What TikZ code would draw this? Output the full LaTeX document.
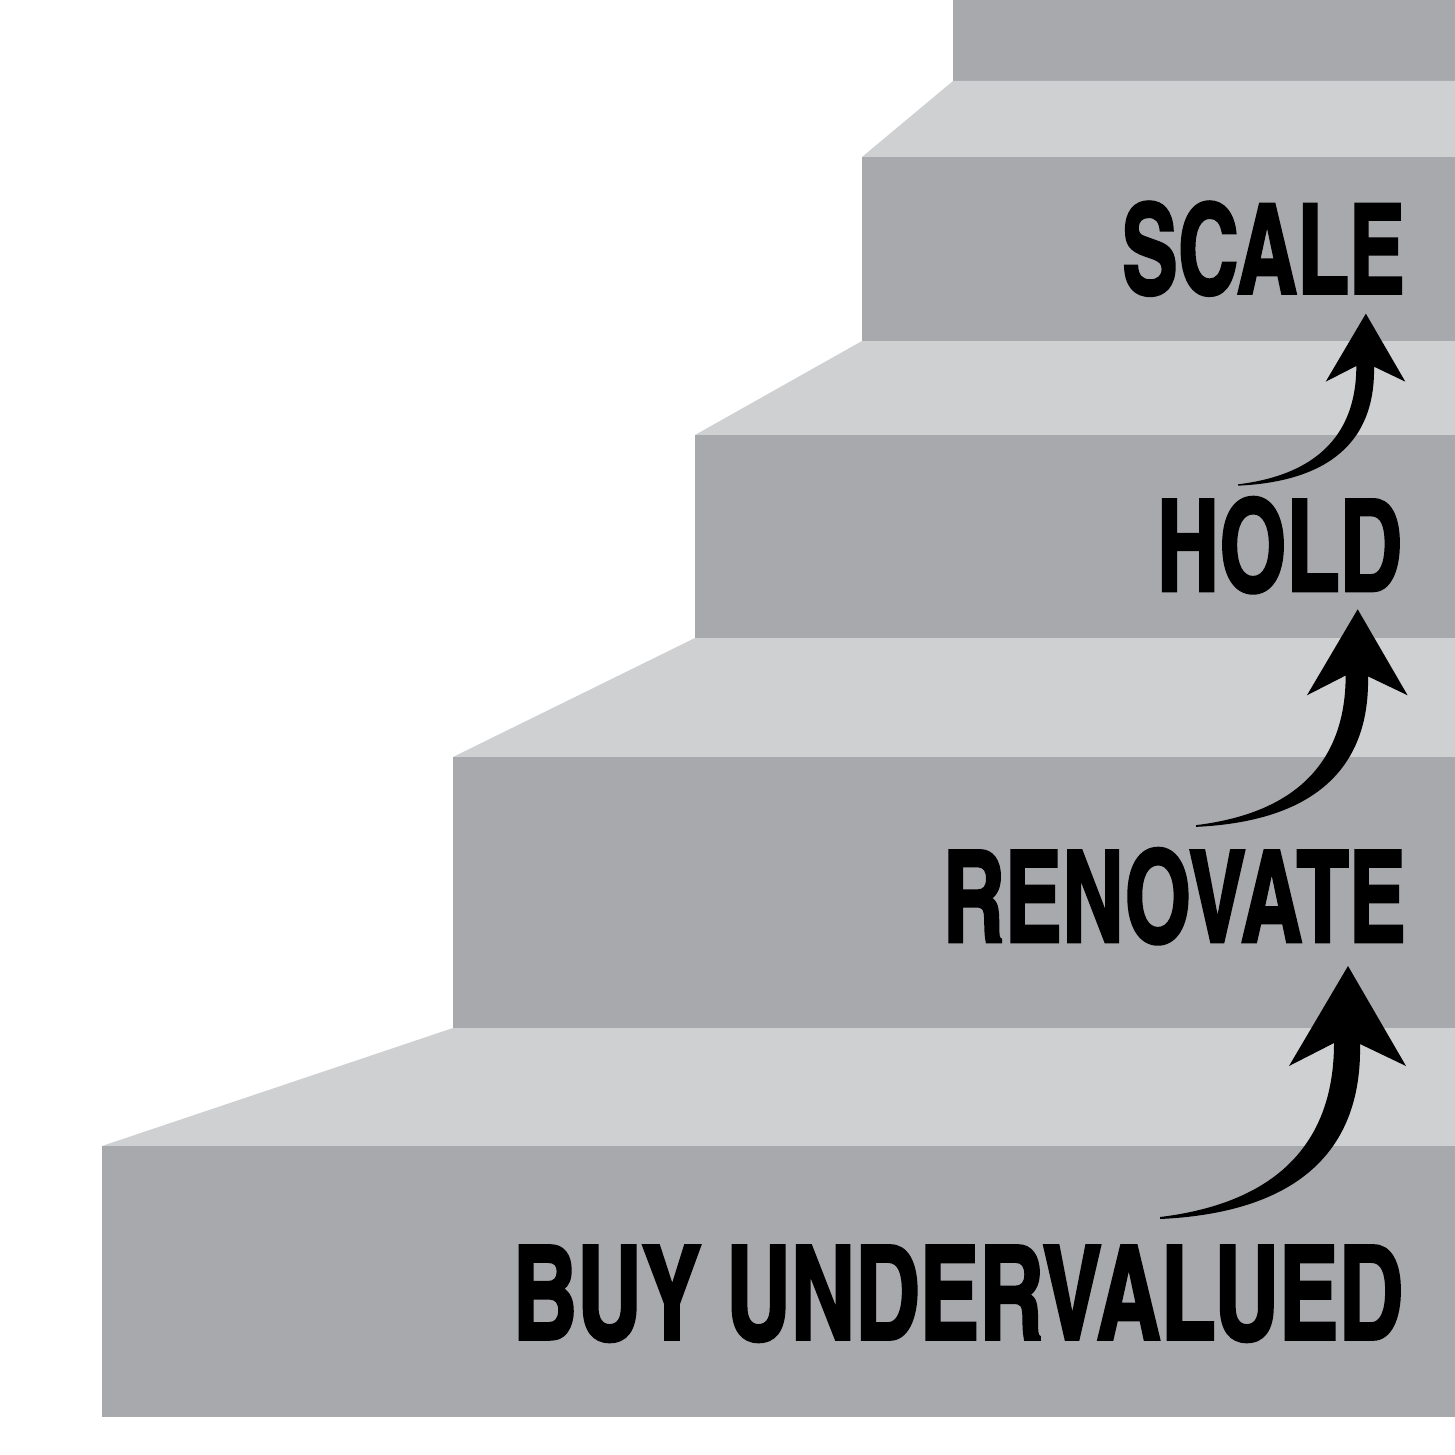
\documentclass[tikz,border=0pt]{standalone}
\usepackage{fontspec}
\setmainfont{Liberation Sans}
\newfontfamily\stepfont{texgyreheroscn-bold.otf}[FakeBold=2]
\usepackage{graphicx}
\definecolor{riser}{HTML}{A8A9AD}
\definecolor{tread}{HTML}{CFD0D2}
\tikzset{
  risershape/.style={fill=riser, draw=none},
  treadshape/.style={fill=tread, draw=none},
  steplabel/.style={inner sep=0pt, outer sep=0pt, anchor=base east, text=black},
  steparrow/.pic={
    \fill[black] (0,1) .. controls (150,-6) and (202,-78) .. (200,-174)
      -- (246,-152) -- (188,-252) -- (129,-152) -- (174,-175)
      .. controls (174,-98) and (140,-18) .. (0,-1) -- cycle;
  }
}
\newcommand{\labeltext}[3]{\resizebox{#1pt}{#2pt}{\stepfont #3}}
\begin{document}
\begin{tikzpicture}[x=1pt,y=-1pt]
  \fill[white] (0,0) rectangle (1455,1455);
  \useasboundingbox (0,0) rectangle (1455,1455);
  % top riser
  \fill[risershape] (953,0) rectangle (1455,81);
  % tread 1
  \fill[treadshape] (953,81) -- (1455,81) -- (1455,157) -- (862,157) -- cycle;
  % riser 2
  \fill[risershape] (862,157) rectangle (1455,341);
  % tread 2
  \fill[treadshape] (862,341) -- (1455,341) -- (1455,435) -- (695,435) -- cycle;
  % riser 3
  \fill[risershape] (695,435) rectangle (1455,638);
  % tread 3
  \fill[treadshape] (695,638) -- (1455,638) -- (1455,757) -- (453,757) -- cycle;
  % riser 4
  \fill[risershape] (453,757) rectangle (1455,1028);
  % tread 4
  \fill[treadshape] (453,1028) -- (1455,1028) -- (1455,1146) -- (102,1146) -- cycle;
  % riser 5
  \fill[risershape] (102,1146) rectangle (1455,1417);

  % labels
  \node[steplabel] (scale) at (1405,293.5) {\labeltext{283}{92}{SCALE}};
  \node[steplabel] (hold) at (1402,591) {\labeltext{245}{94}{HOLD}};
  \node[steplabel] (renovate) at (1406,942) {\labeltext{463}{94}{RENOVATE}};
  \node[steplabel] (buy) at (1403,1339.5) {\labeltext{890}{94}{BUY UNDERVALUED}};

  % arrows
  \coordinate (tail1) at (1160,1218);
  \coordinate (tail2) at (1196,826);
  \coordinate (tail3) at (1238,485);
  \pic (arrowA) at (tail1) {steparrow};
  \pic[scale=0.86] (arrowB) at (tail2) {steparrow};
  \pic[scale=0.68] (arrowC) at (tail3) {steparrow};
\end{tikzpicture}
\end{document}
